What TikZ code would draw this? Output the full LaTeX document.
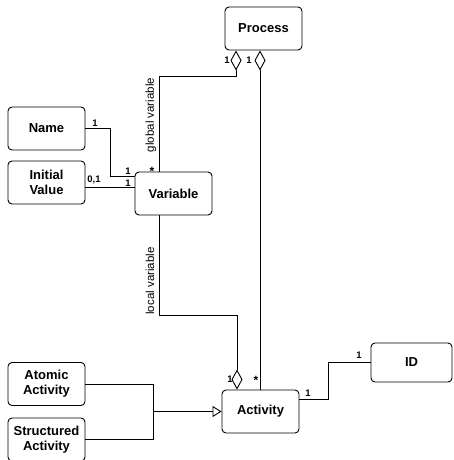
\documentclass[tikz,border=0pt]{standalone}
\usepackage{fontspec}
\setmainfont{Liberation Sans}
\usetikzlibrary{arrows.meta}
\tikzset{
  box/.style={draw, line width=0.9pt, rounded corners=4pt, minimum width=77pt, minimum height=43pt,
    inner sep=0pt, align=center, font=\fontsize{13}{15}\selectfont\bfseries},
  conn/.style={draw, line width=0.9pt},
  aggstart/.style={conn, {Diamond[open, length=20pt, width=11pt, line width=0.9pt]}-},
  aggend/.style={conn, -{Diamond[open, length=20pt, width=11pt, line width=0.9pt]}},
  gen/.style={conn, -{Triangle[open, length=9pt, width=11pt, line width=0.9pt]}},
  mult/.style={font=\fontsize{9.5}{10}\selectfont\bfseries, inner sep=0pt},
  star/.style={font=\fontsize{12}{12}\selectfont\bfseries, inner sep=0pt},
  role/.style={font=\fontsize{11.5}{12}\selectfont, inner sep=0pt, rotate=90}
}
\begin{document}
\begin{tikzpicture}[x=1pt, y=-1pt]
\useasboundingbox (0,0) rectangle (454,460);
\node[box] (Process) at (263.5,28.5) {Process};
\node[box] (Name) at (46.5,128.5) {Name};
\node[box] (Init) at (46.5,182.5) {Initial\\Value};
\node[box] (Variable) at (173.5,193.5) {Variable};
\node[box] (Atomic) at (46.5,384) {Atomic\\Activity};
\node[box] (Structured) at (46.5,439.5) {Structured\\Activity};
\node[box] (Activity) at (260.5,411.5) {Activity};
\node[box, minimum width=81pt, minimum height=39pt] (ID) at (411.5,362.5) {ID};

% Process -- Variable (global variable)
\draw[aggstart] ([xshift=-27.5pt]Process.south) -- ++(0,26) -| ([xshift=-14.5pt]Variable.north);
% Process -- Activity
\draw[aggstart] ([xshift=-3.5pt]Process.south) -- ([xshift=-3.5pt]Process.south |- Activity.north);
% Name -- Variable
\draw[conn] (Name.east) -- ++(25,0) |- ([yshift=17.5pt]Variable.west);
% Initial Value -- Variable
\draw[conn] ([yshift=-4.5pt]Init.east) -- ([yshift=6.5pt]Variable.west);
% Variable -- Activity (local variable)
\draw[aggend] ([xshift=-14.5pt]Variable.south) -- ++(0,100) -| ([xshift=-23.5pt]Activity.north);
% generalisation
\coordinate (j) at (153,411.5);
\draw[conn] (Atomic.east) -| (j);
\draw[conn] (Structured.east) -| (j);
\draw[gen] (j) -- (Activity.west);
% Activity -- ID
\draw[conn] ([yshift=12.5pt]Activity.east) -- ++(29,0) |- (ID.west);

% multiplicities
\node[mult] (m1) at (227,60) {1};
\node[mult] (m2) at (249,60) {1};
\node[star] (m3) at (152,171) {*};
\node[mult] (m4) at (95,123) {1};
\node[mult] (m5) at (128,171) {1};
\node[mult] (m6) at (94,180) {0,1};
\node[mult] (m7) at (128,183) {1};
\node[mult] (m8) at (230,379) {1};
\node[star] (m9) at (256,380) {*};
\node[mult] (m10) at (308,393) {1};
\node[mult] (m11) at (359,355) {1};
% role names
\node[role] (g) at (151,115) {global variable};
\node[role] (l) at (150,281) {local variable};
\end{tikzpicture}
\end{document}
